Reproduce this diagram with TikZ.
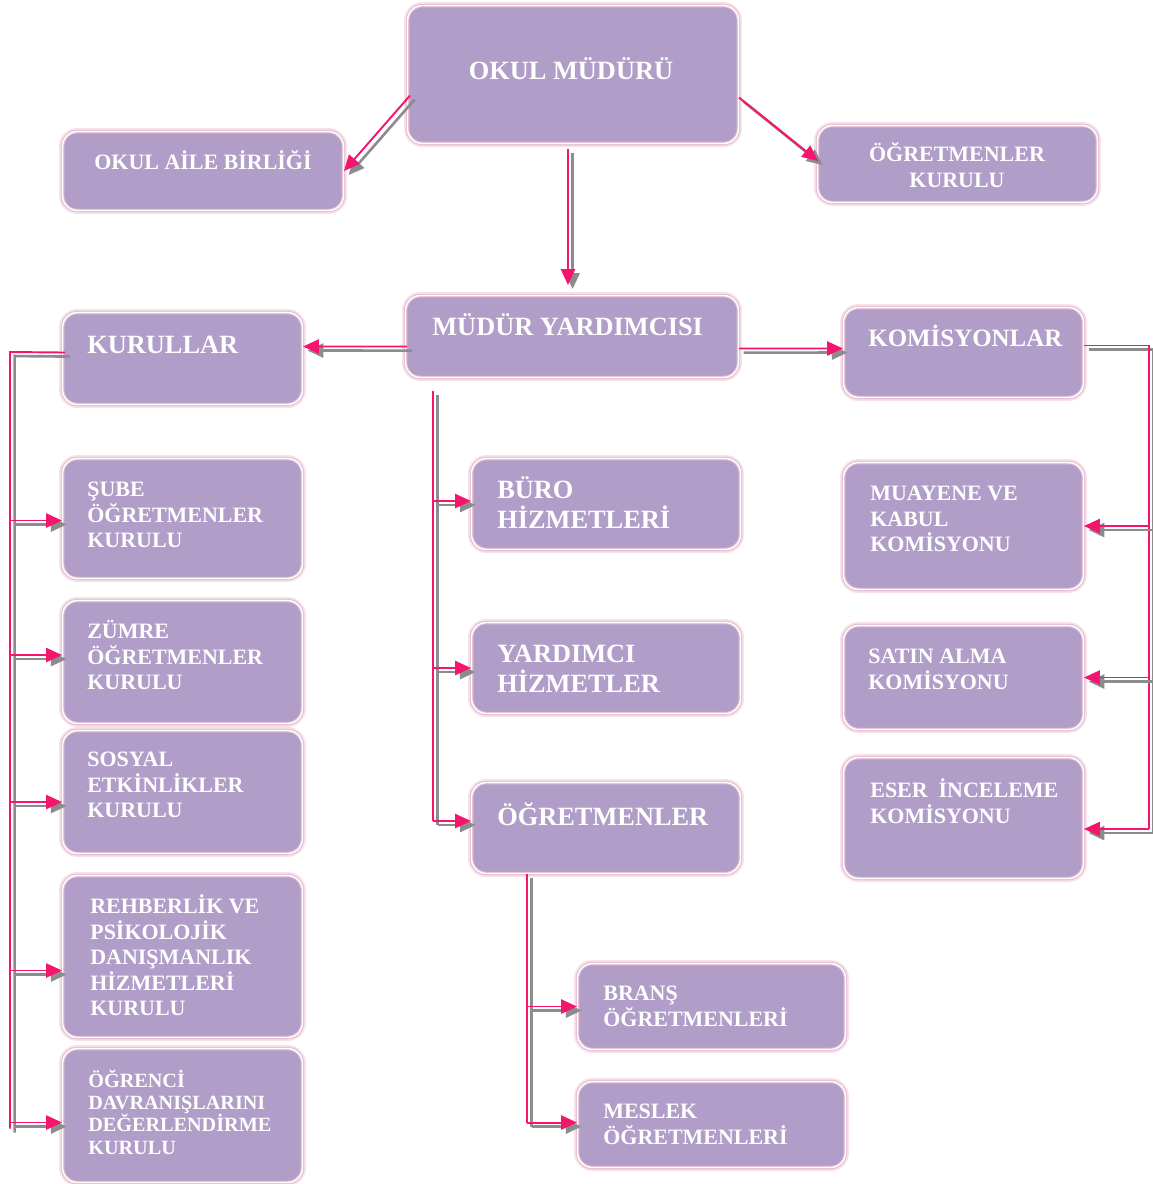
\documentclass[tikz,border=0pt]{standalone}
\usepackage{fontspec}
\setmainfont{Liberation Serif}
\usetikzlibrary{calc,arrows.meta}
\definecolor{boxc}{RGB}{176,158,200}
\definecolor{bordc}{RGB}{226,190,212}
\definecolor{glowc}{RGB}{248,226,232}
\definecolor{pinkc}{RGB}{245,20,110}
\definecolor{shadc}{RGB}{140,140,140}
\newcommand\fst{\rule{0pt}{11pt}}
\newcommand\bst{\rule{0pt}{13pt}}
\newcommand\link[2][]{\draw[shl,#1]#2; \draw[pkl,#1]#2;}
\begin{document}
\begin{tikzpicture}[x=0.02cm,y=-0.02cm,
  box/.style={fill=boxc, draw=bordc, double=white, double distance=0.8pt, line width=0.6pt,
    preaction={draw=glowc, line width=4pt},
    rounded corners=8.5pt, inner sep=0pt, anchor=north west},
  txs/.style={text=white, font=\bfseries\fontsize{12.5}{14.6}\selectfont, inner sep=0pt},
  txb/.style={text=white, font=\bfseries\fontsize{15}{17}\selectfont, inner sep=0pt},
  tl/.style={anchor=north west, align=left, yshift=11pt},
  tlb/.style={anchor=north west, align=left, yshift=13pt},
  pkl/.style={draw=pinkc, line width=1.1pt},
  shl/.style={draw=shadc, line width=1.5pt, transform canvas={shift={(2.6pt,-2.3pt)}}},
  arr/.style={-{Triangle[length=9pt,width=8pt]}}]
\fill[white] (0,0) rectangle (1153,1184);
\useasboundingbox (0,0) rectangle (1153,1184);

% boxes
\node[box, minimum width=6.62cm, minimum height=2.76cm] (mudur) at (407,5) {};
\node[box, minimum width=5.62cm, minimum height=1.58cm] (aile) at (62,131) {};
\node[box, minimum width=5.6cm, minimum height=1.54cm] (kurul) at (817,125) {};
\node[box, minimum width=6.66cm, minimum height=1.64cm] (yard) at (405,295) {};
\node[box, minimum width=4.8cm, minimum height=1.84cm] (kurullar) at (62,312) {};
\node[box, minimum width=4.8cm, minimum height=1.8cm] (komis) at (843,307) {};
\node[box, minimum width=4.8cm, minimum height=2.4cm] (sube) at (62,458) {};
\node[box, minimum width=4.8cm, minimum height=2.46cm] (zumre) at (62,600) {};
\node[box, minimum width=4.8cm, minimum height=2.46cm] (sosyal) at (62,730) {};
\node[box, minimum width=4.8cm, minimum height=3.24cm] (rehber) at (62,875) {};
\node[box, minimum width=4.8cm, minimum height=2.68cm] (ogrenci) at (62,1048) {};
\node[box, minimum width=5.38cm, minimum height=1.82cm] (buro) at (471,458) {};
\node[box, minimum width=5.38cm, minimum height=1.82cm] (yhiz) at (471,622) {};
\node[box, minimum width=5.38cm, minimum height=1.82cm] (ogr) at (471,782) {};
\node[box, minimum width=5.36cm, minimum height=1.72cm] (brans) at (577,963) {};
\node[box, minimum width=5.36cm, minimum height=1.72cm] (meslek) at (577,1081) {};
\node[box, minimum width=4.8cm, minimum height=2.54cm] (muayene) at (843,462) {};
\node[box, minimum width=4.8cm, minimum height=2.08cm] (satin) at (843,625) {};
\node[box, minimum width=4.8cm, minimum height=2.42cm] (eser) at (843,757) {};

% texts
\node[txb, anchor=base] (tmudur) at (571,79) {OKUL MÜDÜRÜ};
\node[txs, anchor=base] (taile) at (203,169) {OKUL AİLE BİRLİĞİ};
\node[txs, anchor=north, align=center, yshift=11pt] (tkurul) at (957,161) {\fst ÖĞRETMENLER\\KURULU};
\node[txb, tlb] (tyard) at (432,335) {\bst MÜDÜR YARDIMCISI};
\node[txb, tlb] (tkurullar) at (87,353) {\bst KURULLAR};
\node[txb, tlb, font=\bfseries\fontsize{14.2}{17}\selectfont] (tkomis) at (868,346) {\bst KOMİSYONLAR};
\node[txs, tl] (tsube) at (87,496) {\fst ŞUBE\\ÖĞRETMENLER\\KURULU};
\node[txs, tl] (tzumre) at (87,638) {\fst ZÜMRE\\ÖĞRETMENLER\\KURULU};
\node[txs, tl] (tsosyal) at (87,766) {\fst SOSYAL\\ETKİNLİKLER\\KURULU};
\node[txs, tl] (trehber) at (90,913) {\fst REHBERLİK VE\\PSİKOLOJİK\\DANIŞMANLIK\\HİZMETLERİ\\KURULU};
\node[txs, tl, font=\bfseries\fontsize{11.5}{12.7}\selectfont] (togrenci) at (88,1087) {\fst ÖĞRENCİ\\DAVRANIŞLARINI\\DEĞERLENDİRME\\KURULU};
\node[txb, tlb] (tburo) at (497,498) {\bst BÜRO\\HİZMETLERİ};
\node[txb, tlb] (tyhiz) at (497,662) {\bst YARDIMCI\\HİZMETLER};
\node[txb, tlb] (togr) at (497,825) {\bst ÖĞRETMENLER};
\node[txs, tl] (tbrans) at (603,1000) {\fst BRANŞ\\ÖĞRETMENLERİ};
\node[txs, tl] (tmeslek) at (603,1118) {\fst MESLEK\\ÖĞRETMENLERİ};
\node[txs, tl] (tmuay) at (870,500) {\fst MUAYENE VE\\KABUL\\KOMİSYONU};
\node[txs, tl] (tsatin) at (868,663) {\fst SATIN ALMA\\KOMİSYONU};
\node[txs, tl] (teser) at (870,797) {\fst ESER\ \ İNCELEME\\KOMİSYONU};

% top connectors
\link[arr]{($(mudur.west)+(3,21)$) -- (aile.east)}
\link[arr]{($(mudur.east)+(0,23)$) -- ($(kurul.west)+(1,-3)$)}
\link[arr]{($(mudur.south)+(-5,5)$) -- ($(yard.north)+(-4,-10)$)}
\link[arr]{($(yard.west)+(2,10)$) -- ($(kurullar.east)+(0,-12)$)}
\link[arr]{($(yard.east)+(0,12)$) -- ($(komis.west)+(0,-4)$)}

% left tree
\coordinate (ktop) at ($(kurullar.north west)+(-52,40)$);
\coordinate (kbot) at ($(ogrenci.west)+(-52,13)$);
\link{($(kurullar.west)+(3,-6)$) -- (ktop) -- (kbot)}
\link[arr]{($(ktop|-sube.west)+(0,2)$) -- ($(sube.west)+(0,2)$)}
\link[arr]{($(ktop|-zumre.west)+(0,-7)$) -- ($(zumre.west)+(0,-7)$)}
\link[arr]{($(ktop|-sosyal.west)+(0,10)$) -- ($(sosyal.west)+(0,10)$)}
\link[arr]{($(ktop|-rehber.west)+(0,14)$) -- ($(rehber.west)+(0,14)$)}
\link[arr]{($(ktop|-ogrenci.west)+(0,7)$) -- ($(ogrenci.west)+(0,7)$)}

% right tree
\coordinate (rtop) at ($(komis.east)+(65,-7)$);
\coordinate (rbot) at ($(eser.east)+(65,11)$);
\link{($(komis.east)+(0,-7)$) -- (rtop) -- (rbot)}
\link[arr]{(rtop|-muayene.east) -- (muayene.east)}
\link[arr]{(rtop|-satin.east) -- (satin.east)}
\link[arr]{($(rtop|-eser.east)+(0,11)$) -- ($(eser.east)+(0,11)$)}

% middle tree
\coordinate (mtop) at ($(yard.south west)+(28,13)$);
\coordinate (mbot) at ($(ogr.west)+(-38,-7)$);
\link{(mtop) -- (mbot)}
\link[arr]{($(mtop|-buro.west)+(0,-3)$) -- ($(buro.west)+(0,-3)$)}
\link[arr]{(mtop|-yhiz.west) -- (yhiz.west)}
\link[arr]{(mbot) -- ($(ogr.west)+(0,-7)$)}

% teachers tree
\coordinate (otop) at ($(ogr.south west)+(56,0)$);
\coordinate (obot) at ($(meslek.west)+(-50,-2)$);
\link{(otop) -- (obot)}
\link[arr]{(otop|-brans.west) -- (brans.west)}
\link[arr]{(obot) -- ($(meslek.west)+(0,-2)$)}
\end{tikzpicture}
\end{document}
